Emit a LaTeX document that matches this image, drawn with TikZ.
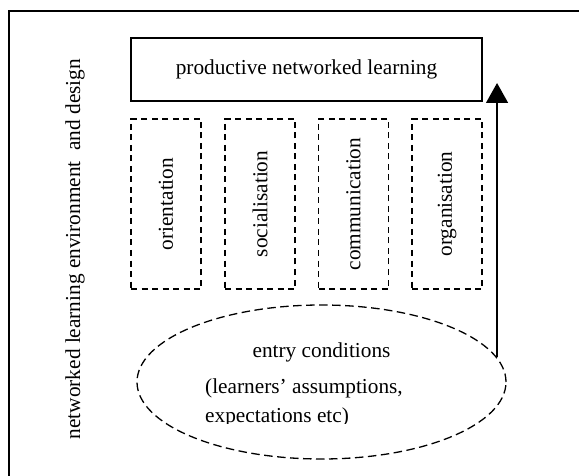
\documentclass[tikz,border=0pt]{standalone}
\usepackage{fontspec}
\setmainfont{Liberation Serif}
\usepackage{graphicx}
\usetikzlibrary{shapes.geometric,arrows.meta}

\begin{document}
\begin{tikzpicture}[x=1pt, y=-1pt,
    every node/.style={font=\fontsize{21.3}{27}\selectfont, inner sep=0pt},
    phase/.style={draw, line width=1.3pt, dash pattern=on 6pt off 4.5pt, minimum width=70pt, minimum height=170pt}]
    \clip (0,0) rectangle (579,476);
    % Outer frame (runs off the page to the right and below)
    \draw[line width=1.6pt] (9,11) rectangle (640,540);

    % Environment label
    \node[rotate=90] (envlabel) at (75,249) {networked learning environment\ \ and design};

    % Goal
    \node[draw, line width=1.3pt, minimum width=351pt, minimum height=63pt] (plearn) at (306.5,69.5) {productive networked learning};

    % Stages
    \node[phase] (orient) at (166,204) {\rotatebox{90}{orientation}};
    \node[phase] (social) at (260,204) {\rotatebox{90}{socialisation}};
    \node[phase] (commun) at (353.5,204) {\rotatebox{90}{communication}};
    \node[phase] (organ) at (447,204) {\rotatebox{90}{organisation}};

    % Entry conditions
    \node[ellipse, draw, line width=1.3pt, dash pattern=on 8.5pt off 4.5pt, minimum width=369pt, minimum height=154pt] (entry) at (321.5,382) {};
    \node[anchor=base] (entrytitle) at (321.5,357) {entry conditions};
    \node[anchor=base west] (entrynote) at (205,393) {(learners’ assumptions,};
    \begin{scope}
        \clip (180,380) rectangle (480,423.5);
        \node[anchor=base west] (entrynote2) at (205,422) {expectations etc)};
    \end{scope}

    % Progress arrow
    \coordinate (arrowtop) at (505,83);
    \draw[line width=1.3pt, -{Triangle[length=20pt, width=22pt]}] (entry.8) -- (entry.8 |- arrowtop);
\end{tikzpicture}
\end{document}
